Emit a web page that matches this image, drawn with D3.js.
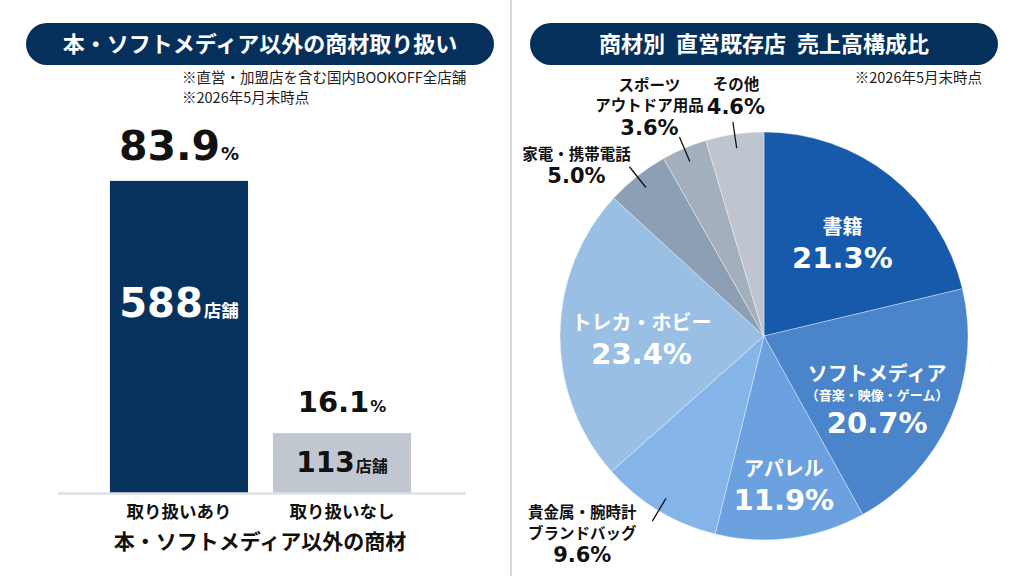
<!DOCTYPE html>
<html>
<head>
<meta charset="utf-8">
<script src="https://cdn.jsdelivr.net/npm/d3@7"></script>
<style>
  body { margin: 0; background: #fff; }
  text { font-family: "Noto Sans CJK JP", "Noto Sans", sans-serif; }
  .num { font-family: "DejaVu Sans", "Noto Sans CJK JP", sans-serif; }
</style>
</head>
<body>
<div id="chart-area"></div>
<script>
// bar chart data
var barCats = ["取り扱いあり", "取り扱いなし"];
var barPct = [83.9, 16.1];
var barStores = [588, 113];
var barColors = ["#06325d", "#c1c7d0"];

// pie chart data
var pieCats = ["書籍", "ソフトメディア", "アパレル", "貴金属・腕時計\nブランドバッグ", "トレカ・ホビー", "家電・携帯電話", "スポーツ\nアウトドア用品", "その他"];
var pieSubs = ["", "（音楽・映像・ゲーム）", "", "", "", "", "", ""];
var pieVals = [21.3, 20.7, 11.9, 9.6, 23.4, 5.0, 3.6, 4.6];
var pieColors = ["#175aac", "#4a84cb", "#6ca1e0", "#85b5e8", "#99bfe4", "#8d9fb5", "#a4afbd", "#bec5cf"];

var width = 1024, height = 576;
var navy = "#06305c";

var svg = d3.select("#chart-area").append("svg")
  .attr("width", width)
  .attr("height", height);

svg.append("rect").attr("width", width).attr("height", height).attr("fill", "#fff");

// divider
svg.append("line")
  .attr("x1", 511).attr("x2", 511).attr("y1", 0).attr("y2", height)
  .attr("stroke", "#d5d9df").attr("stroke-width", 2);

// title pills
function pill(x, w, label) {
  svg.append("rect")
    .attr("x", x).attr("y", 23).attr("width", w).attr("height", 42)
    .attr("rx", 21).attr("fill", navy);
  svg.append("text")
    .attr("x", x + w / 2).attr("y", 52)
    .attr("text-anchor", "middle")
    .attr("font-size", "22px").attr("font-weight", 700)
    .attr("fill", "#fff")
    .text(label);
}
pill(26, 468, "本・ソフトメディア以外の商材取り扱い");
pill(530, 468, "商材別\u2002直営既存店\u2002売上高構成比");

// notes
var notes = svg.append("g").attr("font-size", "14.5px").attr("fill", "#222");
notes.append("text").attr("x", 182).attr("y", 83).text("※直営・加盟店を含む国内BOOKOFF全店舗");
notes.append("text").attr("x", 182).attr("y", 103).text("※2026年5月末時点");
notes.append("text").attr("x", 982).attr("y", 83).attr("text-anchor", "end").text("※2026年5月末時点");

// ---------- bar chart ----------
var base = 493;
var x = d3.scaleBand().domain(barCats).range([85, 436]).paddingInner(0.153).paddingOuter(0.153);
var y = d3.scaleLinear().domain([0, 100]).range([base, base - 372]);

var g = svg.append("g");

g.selectAll("rect.bar").data(barPct).enter().append("rect")
  .attr("class", "bar")
  .attr("x", function(d, i) { return x(barCats[i]); })
  .attr("y", function(d) { return y(d); })
  .attr("width", x.bandwidth())
  .attr("height", function(d) { return base - y(d); })
  .attr("fill", function(d, i) { return barColors[i]; });

// baseline
g.append("line")
  .attr("x1", 58).attr("x2", 466).attr("y1", base + 0.5).attr("y2", base + 0.5)
  .attr("stroke", "#dde0e6").attr("stroke-width", 2.5);

// percent labels above bars
var pctSize = [41, 29], pctUnit = [18, 16];
g.selectAll("text.pct").data(barPct).enter().append("text")
  .attr("class", "pct num")
  .attr("x", function(d, i) { return x(barCats[i]) + x.bandwidth() / 2; })
  .attr("y", function(d) { return y(d) - 21; })
  .attr("text-anchor", "middle")
  .attr("font-weight", 700)
  .attr("fill", "#111")
  .each(function(d, i) {
    var t = d3.select(this);
    t.append("tspan").attr("font-size", pctSize[i] + "px").text(d.toFixed(1));
    t.append("tspan").attr("font-size", pctUnit[i] + "px").attr("dx", 1).text("%");
  });

// store counts inside bars
var stSize = [40, 28], stUnit = [17.5, 16];
g.selectAll("text.st").data(barStores).enter().append("text")
  .attr("class", "st num")
  .attr("x", function(d, i) { return x(barCats[i]) + x.bandwidth() / 2; })
  .attr("y", function(d, i) { return i === 0 ? y(barPct[i]) + 136 : base - 21; })
  .attr("text-anchor", "middle")
  .attr("font-weight", 700)
  .attr("fill", function(d, i) { return i === 0 ? "#fff" : "#111"; })
  .each(function(d, i) {
    var t = d3.select(this);
    t.append("tspan").attr("font-size", stSize[i] + "px").text(d);
    t.append("tspan").attr("font-size", stUnit[i] + "px")
      .style("font-family", "Noto Sans CJK JP").attr("dx", 1).text("店舗");
  });

// x axis
var xAxis = g.append("g").attr("transform", "translate(0," + base + ")")
  .call(d3.axisBottom(x).tickSize(0).tickPadding(13));
xAxis.select(".domain").remove();
xAxis.selectAll("text")
  .style("font-family", "Noto Sans CJK JP")
  .attr("font-size", "17.5px").attr("font-weight", 700).attr("fill", "#111");

g.append("text")
  .attr("x", 260).attr("y", 549)
  .attr("text-anchor", "middle")
  .attr("font-size", "21px").attr("font-weight", 700).attr("fill", "#111")
  .text("本・ソフトメディア以外の商材");

// ---------- pie chart ----------
var cx = 764, cy = 336, r = 204;
var pie = d3.pie().sort(null).value(function(d) { return d; });
var arcs = pie(pieVals);
var arc = d3.arc().innerRadius(0).outerRadius(r);

var pg = svg.append("g").attr("transform", "translate(" + cx + "," + cy + ")");

pg.selectAll("path").data(arcs).enter().append("path")
  .attr("d", arc)
  .attr("fill", function(d, i) { return pieColors[i]; })
  .attr("stroke", "#ffffff").attr("stroke-width", 0.6).attr("stroke-opacity", 0.6);

// label layout: inside slices [radius factor, dx, dy]; small slices go outside with a leader
var inside = {0: [0.62, 0, 7], 1: [0.66, -10, 15], 2: [0.74, 0, 0], 4: [0.61, 2, 5]};
var outOffset = {3: [-70, -3], 5: [-53, -7], 6: [-30, -46], 7: [3, -32]};

function polar(a, rad) { return [rad * Math.sin(a), -rad * Math.cos(a)]; }

arcs.forEach(function(d, i) {
  var mid = (d.startAngle + d.endAngle) / 2;
  var pct = pieVals[i].toFixed(1) + "%";
  var lines = pieCats[i].split("\n");
  if (inside[i] !== undefined) {
    var o = inside[i];
    var p = polar(mid, r * o[0]);
    var px = p[0] + o[1];
    var hasSub = pieSubs[i] !== "";
    var top = p[1] + o[2] - (hasSub ? 24 : 10);
    pg.append("text").attr("x", px).attr("y", top)
      .attr("text-anchor", "middle").attr("fill", "#fff")
      .attr("font-size", "20px").attr("font-weight", 700)
      .text(lines[0]);
    if (hasSub) {
      pg.append("text").attr("x", px).attr("y", top + 19)
        .attr("text-anchor", "middle").attr("fill", "#fff")
        .attr("font-size", "13px").attr("font-weight", 700)
        .text(pieSubs[i]);
    }
    pg.append("text").attr("class", "num").attr("x", px).attr("y", top + (hasSub ? 52 : 34))
      .attr("text-anchor", "middle").attr("fill", "#fff")
      .attr("font-size", "29px").attr("font-weight", 700)
      .text(pct);
  } else {
    var a = polar(mid, r * 0.93), b = polar(mid, r * 1.06);
    pg.append("line")
      .attr("x1", a[0]).attr("y1", a[1]).attr("x2", b[0]).attr("y2", b[1])
      .attr("stroke", "#111").attr("stroke-width", 1.3);
    var off = outOffset[i];
    var lx = b[0] + off[0], ly = b[1] + off[1];
    lines.forEach(function(s, k) {
      pg.append("text").attr("x", lx).attr("y", ly + k * 20.5)
        .attr("text-anchor", "middle").attr("fill", "#111")
        .attr("font-size", "15.5px").attr("font-weight", 700)
        .text(s);
    });
    pg.append("text").attr("class", "num").attr("x", lx).attr("y", ly + lines.length * 20.5 + 3)
      .attr("text-anchor", "middle").attr("fill", "#111")
      .attr("font-size", "21px").attr("font-weight", 700)
      .text(pct);
  }
});
</script>
</body>
</html>
